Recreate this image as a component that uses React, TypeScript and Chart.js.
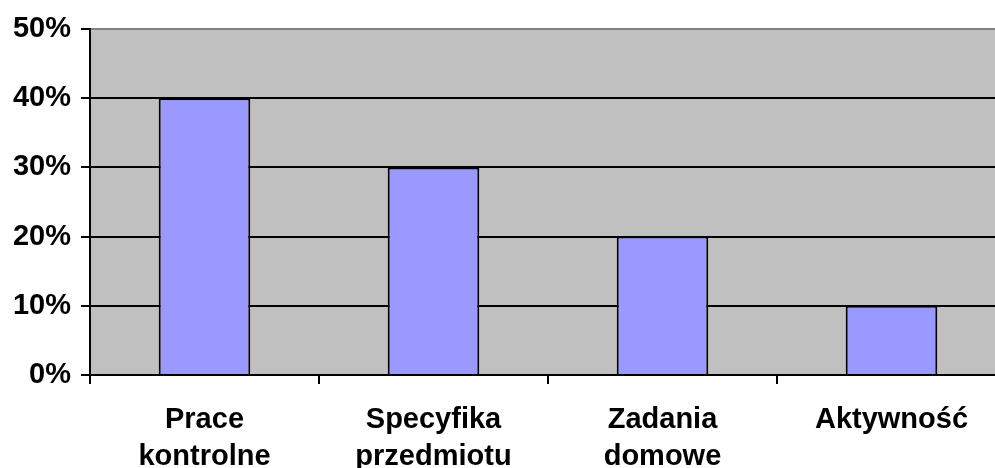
import React, { useEffect, useRef } from "react";
import { Chart, registerables } from "chart.js";

Chart.register(...registerables);

const categories: (string | string[])[] = [
  ["Prace", "kontrolne"],
  ["Specyfika", "przedmiotu"],
  ["Zadania", "domowe"],
  "Aktywność",
];
const values: number[] = [40, 30, 20, 10];
const yMin = 0;
const yMax = 50;
const yStep = 10;

const FONT = "'Liberation Sans', Arial, sans-serif";

const plotBg = {
  id: "plotBg",
  beforeDraw(chart: any) {
    const { ctx, chartArea } = chart;
    ctx.save();
    ctx.fillStyle = "#C0C0C0";
    ctx.fillRect(chartArea.left, chartArea.top, chartArea.right - chartArea.left, chartArea.bottom - chartArea.top);
    ctx.restore();
  },
};

export default function App() {
  const ref = useRef<HTMLCanvasElement>(null);
  useEffect(() => {
    if (!ref.current) return;
    const chart = new Chart(ref.current, {
      type: "bar",
      data: {
        labels: categories,
        datasets: [
          {
            data: values,
            backgroundColor: "#9999FF",
            borderColor: "#000000",
            borderWidth: 2,
            categoryPercentage: 1,
            barPercentage: 0.4,
          },
        ],
      },
      options: {
        responsive: false,
        animation: false,
        devicePixelRatio: 1,
        layout: { padding: { top: 29, right: 4, left: 0, bottom: 0 } },
        plugins: { legend: { display: false }, tooltip: { enabled: false } },
        scales: {
          x: {
            afterFit: (s: any) => {
              s.height = 93;
            },
            grid: {
              offset: true,
              drawOnChartArea: false,
              drawTicks: true,
              tickLength: 9,
              tickColor: "#000",
              lineWidth: 2,
              color: "#000",
            },
            border: { display: true, color: "#000", width: 2 },
            ticks: {
              color: "#000",
              maxRotation: 0,
              autoSkip: false,
              padding: 17,
              font: { family: FONT, size: 29, weight: "bold", lineHeight: "37px" },
            },
          },
          y: {
            min: yMin,
            max: yMax,
            afterFit: (s: any) => {
              s.width = 90;
            },
            grid: {
              color: (c: any) => (c.tick && c.tick.value === yMax ? "#808080" : "#000"),
              lineWidth: 2,
              drawTicks: true,
              tickLength: 9,
              tickColor: "#000",
            },
            border: { display: true, color: "#000", width: 2 },
            ticks: {
              stepSize: yStep,
              color: "#000",
              padding: 10,
              font: { family: FONT, size: 29, weight: "bold" },
              callback: (v: any) => v + "%",
            },
          },
        },
      },
      plugins: [plotBg],
    });
    return () => chart.destroy();
  }, []);
  return (
    <div style={{ position: "fixed", left: 0, top: 0, width: 995, height: 468, overflow: "hidden", background: "#fff" }}>
      <canvas ref={ref} width={1010} height={468} style={{ display: "block" }} />
    </div>
  );
}
